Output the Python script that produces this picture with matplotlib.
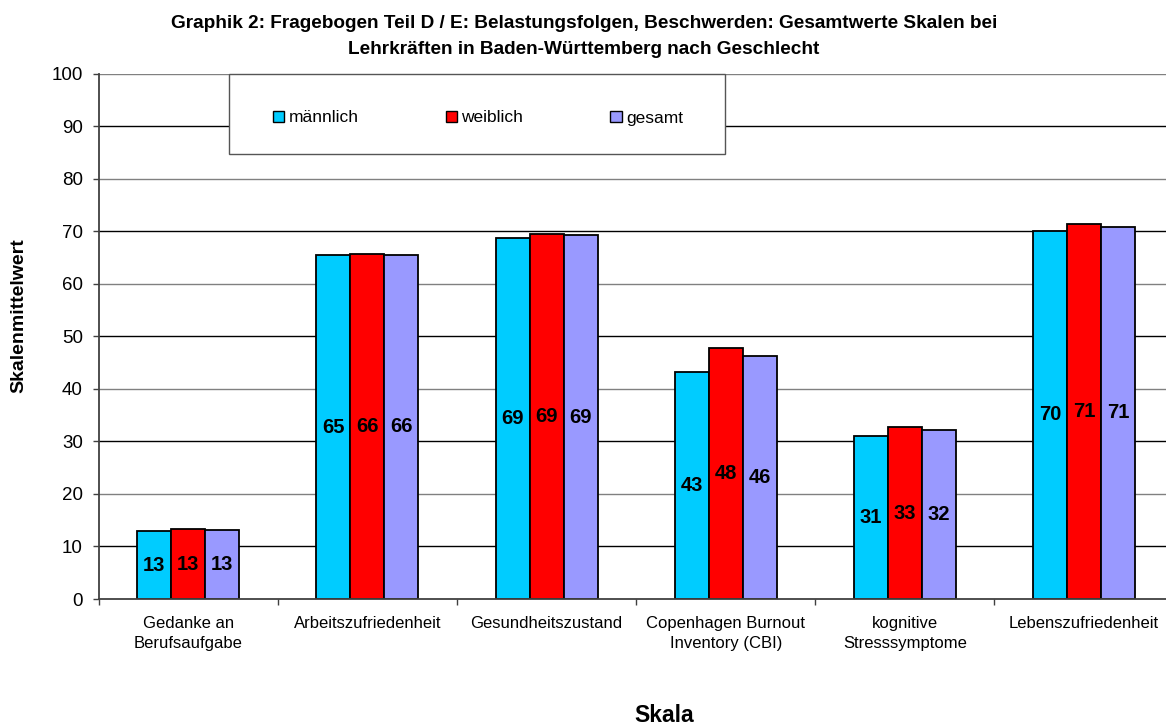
import matplotlib
matplotlib.use("Agg")
import matplotlib.pyplot as plt
from matplotlib.patches import Rectangle, Patch
import numpy as np

plt.rcParams['font.family'] = ['Liberation Sans', 'DejaVu Sans']

categories = ["Gedanke an\nBerufsaufgabe", "Arbeitszufriedenheit", "Gesundheitszustand",
              "Copenhagen Burnout\nInventory (CBI)", "kognitive\nStresssymptome",
              "Lebenszufriedenheit"]
maennlich = [12.9, 65.4, 68.7, 43.3, 31.1, 70.1]
weiblich = [13.3, 65.6, 69.4, 47.8, 32.7, 71.3]
gesamt = [13.15, 65.55, 69.2, 46.2, 32.1, 70.9]
series_names = ["männlich", "weiblich", "gesamt"]
series_colors = ["#00CCFF", "#FF0000", "#9999FF"]
yticks = list(range(0, 101, 10))
title_lines = ["Graphik 2: Fragebogen Teil D / E: Belastungsfolgen, Beschwerden: Gesamtwerte Skalen bei",
               "Lehrkräften in Baden-Württemberg nach Geschlecht"]

W, H = 1166, 725
fig = plt.figure(figsize=(W / 100, H / 100), dpi=100)

left_px, top_px, bottom_px = 98.7, 73.7, 599.0
cat_w = 179.15
ax = fig.add_axes([left_px / W, 1 - bottom_px / H, cat_w * 6 / W, (bottom_px - top_px) / H])

x = np.arange(len(categories))
bw = 34 / cat_w
all_series = [maennlich, weiblich, gesamt]

# gridlines (alternating rendering as in the reference)
for v in yticks[1:]:
    col = "#000000" if (v // 10) % 2 == 1 else "#808080"
    ax.axhline(v, color=col, lw=1.0, zorder=0)

for i, (vals, name, col) in enumerate(zip(all_series, series_names, series_colors)):
    pos = x + (i - 1) * bw
    ax.bar(pos, vals, width=bw, color=col, edgecolor="black", linewidth=1.3,
           label=name, zorder=2)
    for xi, v in zip(pos, vals):
        ax.text(xi, v / 2, f"{int(round(v))}", ha="center", va="center",
                fontsize=14.5, fontweight="bold", color="black", zorder=3)

ax.set_xlim(-0.5, len(categories) - 0.5)
ax.set_ylim(0, 100)
ax.set_yticks(yticks)
ax.tick_params(axis="y", labelsize=13.5, length=4.5, width=1.0, pad=7, color="#404040")

ax.set_xticks(np.arange(-0.5, len(categories), 1.0))
ax.set_xticklabels([])
ax.tick_params(axis="x", which="major", length=4.5, width=1.0, color="#404040")
ax.set_xticks(x, minor=True)
ax.set_xticklabels(categories, minor=True, fontsize=12, linespacing=1.45)
ax.tick_params(axis="x", which="minor", length=0, pad=12)

for s in ["top", "right"]:
    ax.spines[s].set_visible(False)
for s in ["left", "bottom"]:
    ax.spines[s].set_color("#404040")
    ax.spines[s].set_linewidth(1.3)
    ax.spines[s].set_zorder(4)

# titles and axis labels
fig.text(584 / W, 1 - 28.3 / H, title_lines[0], ha="center", va="baseline",
         fontsize=13.7, fontweight="bold")
fig.text(584 / W, 1 - 53.8 / H, title_lines[1], ha="center", va="baseline",
         fontsize=13.7, fontweight="bold")
fig.text(19 / W, 1 - 315.5 / H, "Skalenmittelwert", rotation=90, ha="center", va="center",
         fontsize=14, fontweight="bold")
fig.text(664 / W, 1 - 722 / H, "Skala", ha="center", va="baseline",
         fontsize=16.5, fontweight="bold")

# legend box
rect = Rectangle((229 / W, 1 - 154.3 / H), (725 - 229) / W, (154.3 - 74.3) / H,
                 transform=fig.transFigure, facecolor="white", edgecolor="#555555",
                 linewidth=1.0, zorder=4)
fig.add_artist(rect)
handles = [Patch(facecolor=c, edgecolor="black", linewidth=1.0) for c in series_colors]
leg = fig.legend(handles, series_names, loc="center", ncol=3, mode="expand", frameon=False,
                 bbox_to_anchor=(273 / W, 1 - 128 / H, (683 - 273) / W, 20 / H),
                 fontsize=12.5, handlelength=0.65, handleheight=0.65, handletextpad=0.25,
                 borderpad=0, borderaxespad=0)
leg.set_zorder(6)

fig.savefig("out.png", dpi=100)
